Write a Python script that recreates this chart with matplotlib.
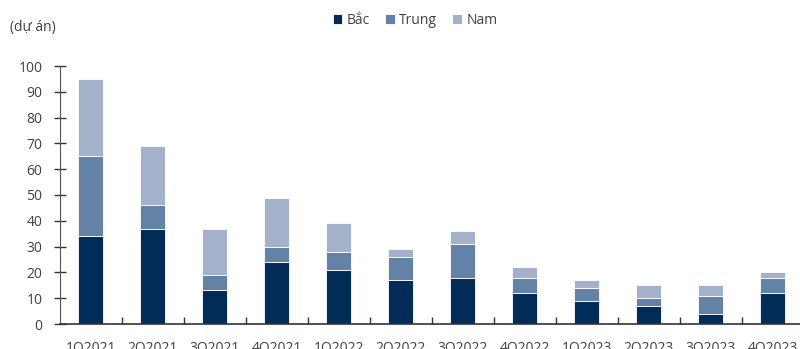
import matplotlib
matplotlib.use("Agg")
import matplotlib.pyplot as plt
import numpy as np

# ===== Données =====
quarters = ["1Q2021", "2Q2021", "3Q2021", "4Q2021", "1Q2022", "2Q2022",
            "3Q2022", "4Q2022", "1Q2023", "2Q2023", "3Q2023", "4Q2023"]
bac = [34, 37, 13, 24, 21, 17, 18, 12, 9, 7, 4, 12]
trung = [31, 9, 6, 6, 7, 9, 13, 6, 5, 3, 7, 6]
nam = [30, 23, 18, 19, 11, 3, 5, 4, 3, 5, 4, 2]

colors = ["#012c57", "#6482a6", "#a3b2ca"]
text_color = "#404040"

plt.rcParams["font.family"] = ["Open Sans", "DejaVu Sans"]

fig = plt.figure(figsize=(8, 3.49), dpi=100)
ax = fig.add_axes([59.7 / 800, 25 / 349, 744 / 800, 258 / 349])

x = np.arange(len(quarters))
b1 = np.array(bac)
b2 = b1 + np.array(trung)
w = 0.4
ax.bar(x, bac, w, color=colors[0], edgecolor="white", linewidth=0.6, label="Bắc")
ax.bar(x, trung, w, bottom=b1, color=colors[1], edgecolor="white", linewidth=0.6, label="Trung")
ax.bar(x, nam, w, bottom=b2, color=colors[2], edgecolor="white", linewidth=0.6, label="Nam")

ax.set_xlim(-0.5, 11.5)
ax.set_ylim(0, 100)
ax.set_yticks(range(0, 101, 10))

# ticks x entre les catégories
ax.set_xticks(np.arange(0.5, 11.5, 1))
ax.set_xticklabels([])
ax.tick_params(axis="x", direction="in", length=5, color="#333333", width=1)
ax.set_xticks(x, minor=True)
ax.set_xticklabels(quarters, minor=True)
ax.tick_params(axis="x", which="minor", length=0, pad=12, labelsize=10, labelcolor=text_color)
ax.tick_params(axis="y", direction="inout", length=9, color="#333333", width=1,
               labelsize=10, labelcolor=text_color, pad=8)

for s in ["top", "right"]:
    ax.spines[s].set_visible(False)
ax.spines["left"].set_color("#555555")
ax.spines["bottom"].set_color("#333333")
ax.spines["bottom"].set_linewidth(1.2)

fig.text(10 / 800, 1 - 27 / 349, "(dự án)", fontsize=10, color=text_color, va="center")
fig.legend(loc="center", bbox_to_anchor=(415 / 800, 1 - 20 / 349), ncol=3, frameon=False,
           handlelength=0.7, handleheight=0.7, handletextpad=0.3, columnspacing=1.1,
           fontsize=10, labelcolor=text_color)

fig.savefig("out.png", dpi=100)
